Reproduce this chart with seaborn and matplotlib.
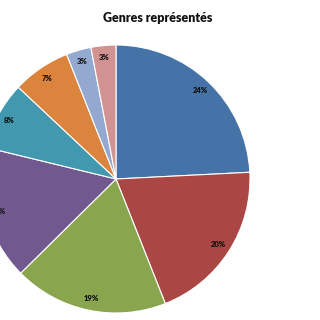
import matplotlib
matplotlib.use("Agg")
import matplotlib.pyplot as plt
import seaborn as sns

sns.set_theme(style="white")
plt.rcParams['font.family'] = ['Lato', 'DejaVu Sans']

# Data
genres = ["Genre 1", "Genre 2", "Genre 3", "Genre 4", "Genre 5", "Genre 6", "Genre 7", "Genre 8"]
shares = [24.2, 19.8, 18.6, 16.2, 8.2, 7.0, 3.0, 3.0]
pct_labels = ["24%", "20%", "19%", "16%", "8%", "7%", "3%", "3%"]
colors = ["#4572A7", "#AA4643", "#89A54E", "#71588F", "#4198AF", "#DB843D", "#93A9CF", "#D19392"]
title = "Genres représentés"

fig = plt.figure(figsize=(3.2, 3.2), dpi=100)
fig.patch.set_facecolor("white")

L = 1.01
R = 134  # pixel radius
cx, cy = 116, 179
size = 2 * R * L
ax = fig.add_axes([(cx - R * L) / 320, (320 - cy - R * L) / 320, size / 320, size / 320])

wedges, texts = ax.pie(
    shares,
    colors=sns.color_palette(colors),
    startangle=90,
    counterclock=False,
    wedgeprops=dict(edgecolor="white", linewidth=0.8),
    labels=pct_labels,
    labeldistance=0.91,
    textprops=dict(fontsize=5.5, fontweight="heavy", color="#111111", ha="center", va="center"),
)
for t in texts:
    t.set_horizontalalignment("center")
    t.set_verticalalignment("center")
ax.set_xlim(-L, L)
ax.set_ylim(-L, L)
ax.set_aspect("equal")
ax.axis("off")

fig.text(158 / 320, 1 - 18 / 320, title, ha="center", va="center",
         fontsize=9, fontweight="heavy", color="#111111")

fig.savefig("out.png", dpi=100, facecolor="white")
